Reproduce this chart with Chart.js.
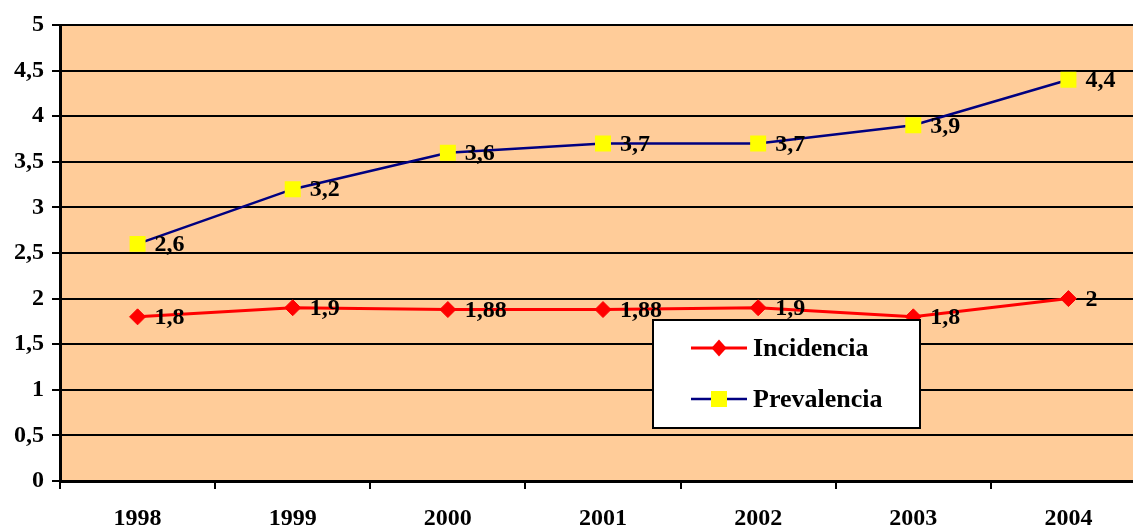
<!DOCTYPE html>
<html>
<head>
<meta charset="utf-8">
<script src="https://cdn.jsdelivr.net/npm/chart.js@4"></script>
<style>
  body { margin: 0; background: #fff; overflow: hidden; }
  #wrap { width: 1133px; height: 527px; overflow: hidden; }
</style>
</head>
<body>
<div id="wrap"><canvas id="chart" width="1147" height="527"></canvas></div>
<script>
// data
var years = ["1998", "1999", "2000", "2001", "2002", "2003", "2004"];
var incidencia = [1.8, 1.9, 1.88, 1.88, 1.9, 1.8, 2];
var prevalencia = [2.6, 3.2, 3.6, 3.7, 3.7, 3.9, 4.4];

var serif = "'Liberation Serif', 'Times New Roman', serif";

function fmt(v) {
  return String(v).replace(".", ",");
}

// peach plot background
const plotBg = {
  id: "plotBg",
  beforeDraw(chart) {
    const a = chart.chartArea;
    const ctx = chart.ctx;
    ctx.save();
    ctx.fillStyle = "#FFCC99";
    ctx.fillRect(a.left, a.top, a.right - a.left, a.bottom - a.top);
    ctx.restore();
  },
};

// value labels right of every point, then the boxed legend
const pointLabels = {
  id: "pointLabels",
  afterDatasetsDraw(chart) {
    const ctx = chart.ctx;
    ctx.save();
    ctx.font = "bold 24px " + serif;
    ctx.fillStyle = "#000";
    ctx.textAlign = "left";
    ctx.textBaseline = "middle";
    chart.data.datasets.forEach((ds, i) => {
      chart.getDatasetMeta(i).data.forEach((pt, j) => {
        ctx.fillText(fmt(ds.data[j]), pt.x + 17, pt.y + 1);
      });
    });

    // legend box
    const lx = 653, ly = 320, lw = 267, lh = 108;
    ctx.fillStyle = "#fff";
    ctx.fillRect(lx, ly, lw, lh);
    ctx.strokeStyle = "#000";
    ctx.lineWidth = 2;
    ctx.strokeRect(lx, ly, lw, lh);

    ctx.font = "bold 26px " + serif;
    chart.data.datasets.forEach((ds, i) => {
      const y = 348 + i * 51;
      ctx.strokeStyle = ds.borderColor;
      ctx.lineWidth = ds.borderWidth;
      ctx.beginPath();
      ctx.moveTo(691, y);
      ctx.lineTo(747, y);
      ctx.stroke();
      ctx.fillStyle = ds.pointBackgroundColor;
      ctx.beginPath();
      if (ds.pointStyle === "rectRot") {
        ctx.moveTo(719, y - 8.5);
        ctx.lineTo(726.5, y);
        ctx.lineTo(719, y + 8.5);
        ctx.lineTo(711.5, y);
        ctx.closePath();
        ctx.fill();
      } else {
        ctx.fillRect(711, y - 8, 16, 16);
      }
      ctx.fillStyle = "#000";
      ctx.fillText(ds.label, 753, y + 1);
    });
    ctx.restore();
  },
};

const ctx = document.getElementById("chart").getContext("2d");
const chart = new Chart(ctx, {
  type: "line",
  data: {
    labels: years,
    datasets: [
      {
        label: "Incidencia",
        data: incidencia,
        borderColor: "#FF0000",
        borderWidth: 3,
        pointStyle: "rectRot",
        pointRadius: 8,
        pointBackgroundColor: "#FF0000",
        pointBorderColor: "#FF0000",
        pointBorderWidth: 1,
        tension: 0,
      },
      {
        label: "Prevalencia",
        data: prevalencia,
        borderColor: "#000080",
        borderWidth: 2.5,
        pointStyle: "rect",
        pointRadius: 11.3,
        pointBackgroundColor: "#FFFF00",
        pointBorderColor: "#FFFF00",
        pointBorderWidth: 0,
        tension: 0,
      },
    ],
  },
  options: {
    responsive: false,
    animation: false,
    layout: {
      autoPadding: false,
      padding: { top: 25, right: 1, left: 0, bottom: 0 },
    },
    plugins: {
      legend: { display: false },
      tooltip: { enabled: false },
    },
    scales: {
      x: {
        offset: true,
        afterFit(scale) {
          scale.height = 46;
          scale.paddingLeft = 0;
          scale.paddingRight = 0;
        },
        grid: {
          offset: true,
          drawOnChartArea: false,
          drawTicks: true,
          tickLength: 8,
          color: "#000",
          lineWidth: 2,
        },
        border: { display: true, color: "#000", width: 3 },
        ticks: {
          color: "#000",
          padding: 15,
          maxRotation: 0,
          font: { family: serif, weight: "bold", size: 24 },
        },
      },
      y: {
        min: 0,
        max: 5,
        afterFit(scale) {
          scale.width = 60;
        },
        grid: {
          color: "#000",
          lineWidth: 2,
          tickLength: 8,
          tickColor: "#000",
        },
        border: { display: true, color: "#000", width: 3 },
        ticks: {
          stepSize: 0.5,
          color: "#000",
          padding: 8,
          font: { family: serif, weight: "bold", size: 24 },
          callback: (v) => fmt(v),
        },
      },
    },
  },
  plugins: [plotBg, pointLabels],
});
</script>
</body>
</html>
